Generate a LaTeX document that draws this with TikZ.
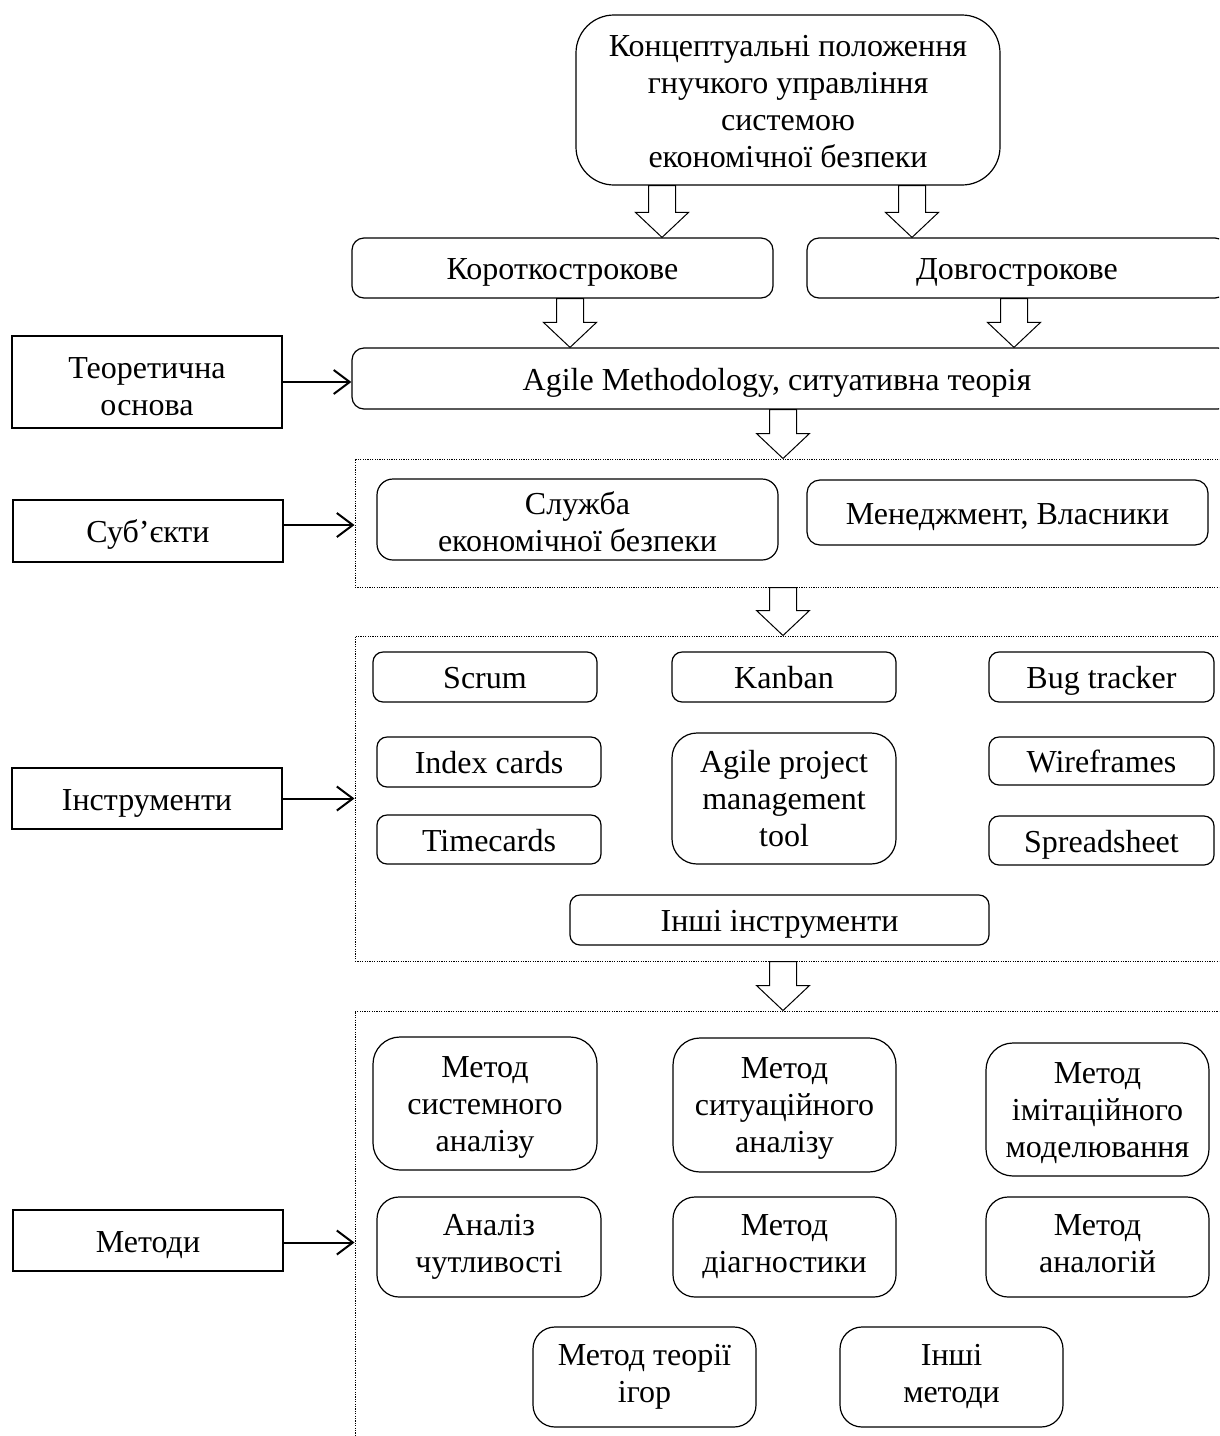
\documentclass[tikz,border=0pt]{standalone}
\usepackage{fontspec}
\setmainfont{Liberation Serif}
\usetikzlibrary{arrows.meta,calc}
\newcommand{\mystrut}{\rule[-7pt]{0pt}{37pt}}
\newcommand{\fl}[1]{\rule{0pt}{#1}}
\tikzset{
  box/.style={draw=black, line width=1.2pt, align=center, inner sep=0pt,
    font=\fontsize{32}{37}\selectfont, fill=white,
    execute at begin node={\mystrut}, execute at end node={\mystrut}},
  rbox/.style={box, rounded corners=#1}, rbox/.default=10pt,
  sq/.style={box, sharp corners},
  cont/.style={draw=black, line width=1pt, inner sep=0pt, dash pattern=on 1.2pt off 1.2pt},
  conn/.style={line width=2pt, -{Straight Barb[length=16pt,width=24pt,line width=2pt]}},
  barr/.style={draw=black, line width=1pt, fill=white, line join=miter},
}
\newcommand{\blockarr}[2]{\draw[barr] let \p1=(#1), \p2=(#2) in
  (\x1-13.5pt,\y1) -- (\x1+13.5pt,\y1) -- (\x1+13.5pt,\y2+25pt) -- (\x1+26.5pt,\y2+25pt)
  -- (\x1,\y2) -- (\x1-26.5pt,\y2+25pt) -- (\x1-13.5pt,\y2+25pt) -- cycle;}
\begin{document}
\begin{tikzpicture}[x=1pt,y=-1pt]
\useasboundingbox (0,0) rectangle (1219,1436);
\clip (0,0) rectangle (1219,1436);
% containers
\node[cont, minimum width=880pt, minimum height=128pt] (subj) at (795,523) {};
\node[cont, minimum width=880pt, minimum height=325pt] (instr) at (795,798.5) {};
\node[cont, minimum width=880pt, minimum height=449pt] (meth) at (795,1235.5) {};
% top part
\node[rbox=38pt, minimum width=424pt, minimum height=170pt] (top) at (788,100)
  {\fl{31pt}Концептуальні положення\\гнучкого управління\\системою\\економічної безпеки};
\node[rbox=12pt, minimum width=421pt, minimum height=60pt] (kor) at (562.5,268) {Короткострокове};
\node[rbox=12pt, minimum width=420pt, minimum height=60pt] (dov) at (1017,268) {Довгострокове};
\node[rbox=12pt, minimum width=878pt, minimum height=61pt] (agile) at (791,378.5)
  {\hspace*{-28pt}Agile Methodology, ситуативна теорія};
% left boxes
\node[sq, minimum width=270pt, minimum height=92pt] (teor) at (147,382) {\fl{36pt}Теоретична\\основа};
\node[sq, minimum width=270pt, minimum height=62pt] (subjL) at (148,531) {Суб’єкти};
\node[sq, minimum width=270pt, minimum height=61pt] (instrL) at (147,798.5) {Інструменти};
\node[sq, minimum width=270pt, minimum height=61pt] (methL) at (148,1240.5) {Методи};
% subjects
\node[rbox=16pt, minimum width=401pt, minimum height=81pt] (sluzh) at (577.5,519.5) {\fl{33pt}Служба\\економічної безпеки};
\node[rbox=13pt, minimum width=401pt, minimum height=65pt] (men) at (1007.5,512.5) {Менеджмент, Власники};
% instruments
\node[rbox, minimum width=224pt, minimum height=50pt] (scrum) at (485,677) {Scrum};
\node[rbox, minimum width=224pt, minimum height=50pt] (kanban) at (784,677) {Kanban};
\node[rbox, minimum width=225pt, minimum height=50pt] (bug) at (1101.5,677) {Bug tracker};
\node[rbox, minimum width=224pt, minimum height=50pt] (index) at (489,762) {Index cards};
\node[rbox, minimum width=224pt, minimum height=49pt] (timec) at (489,839.5) {Timecards};
\node[rbox=25pt, minimum width=224pt, minimum height=131pt] (apm) at (784,798.5) {\fl{29pt}Agile project\\management\\tool};
\node[rbox, minimum width=225pt, minimum height=48pt] (wire) at (1101.5,761) {Wireframes};
\node[rbox, minimum width=225pt, minimum height=49pt] (spread) at (1101.5,840.5) {Spreadsheet};
\node[rbox, minimum width=419pt, minimum height=50pt] (othi) at (779.5,920) {Інші інструменти};
% methods
\node[rbox=27pt, minimum width=224pt, minimum height=133pt] (m1) at (485,1103.5) {\fl{28.5pt}Метод\\системного\\аналізу};
\node[rbox=27pt, minimum width=223pt, minimum height=134pt] (m2) at (784.5,1105) {\fl{28.5pt}Метод\\ситуаційного\\аналізу};
\node[rbox=27pt, minimum width=223pt, minimum height=133pt] (m3) at (1097.5,1109.5) {\fl{28.5pt}Метод\\імітаційного\\моделювання};
\node[rbox=22pt, minimum width=224pt, minimum height=100pt] (m4) at (489,1247) {Аналіз\\чутливості};
\node[rbox=22pt, minimum width=223pt, minimum height=100pt] (m5) at (784.5,1247) {Метод\\діагностики};
\node[rbox=22pt, minimum width=223pt, minimum height=100pt] (m6) at (1097.5,1247) {Метод\\аналогій};
\node[rbox=22pt, minimum width=223pt, minimum height=100pt] (m7) at (644.5,1377) {Метод теорії\\ігор};
\node[rbox=22pt, minimum width=223pt, minimum height=100pt] (m8) at (951.5,1377) {Інші\\методи};
% block arrows
\coordinate (c1) at (662,0);
\coordinate (c2) at (912,0);
\coordinate (c3) at (570,0);
\coordinate (c4) at (1014,0);
\coordinate (c5) at (783,0);
\blockarr{top.south -| c1}{kor.north -| c1}
\blockarr{top.south -| c2}{dov.north -| c2}
\blockarr{kor.south -| c3}{agile.north -| c3}
\blockarr{dov.south -| c4}{agile.north -| c4}
\blockarr{agile.south -| c5}{subj.north -| c5}
\blockarr{subj.south -| c5}{instr.north -| c5}
\blockarr{instr.south -| c5}{meth.north -| c5}
% connectors
\draw[conn] (teor.east) -- (teor.east -| agile.west);
\draw[conn] ([yshift=6pt]subjL.east) -- ([yshift=6pt]subjL.east -| subj.west);
\draw[conn] (instrL.east) -- (instrL.east -| instr.west);
\draw[conn] ([yshift=-2pt]methL.east) -- ([yshift=-2pt]methL.east -| meth.west);
\end{tikzpicture}
\end{document}
